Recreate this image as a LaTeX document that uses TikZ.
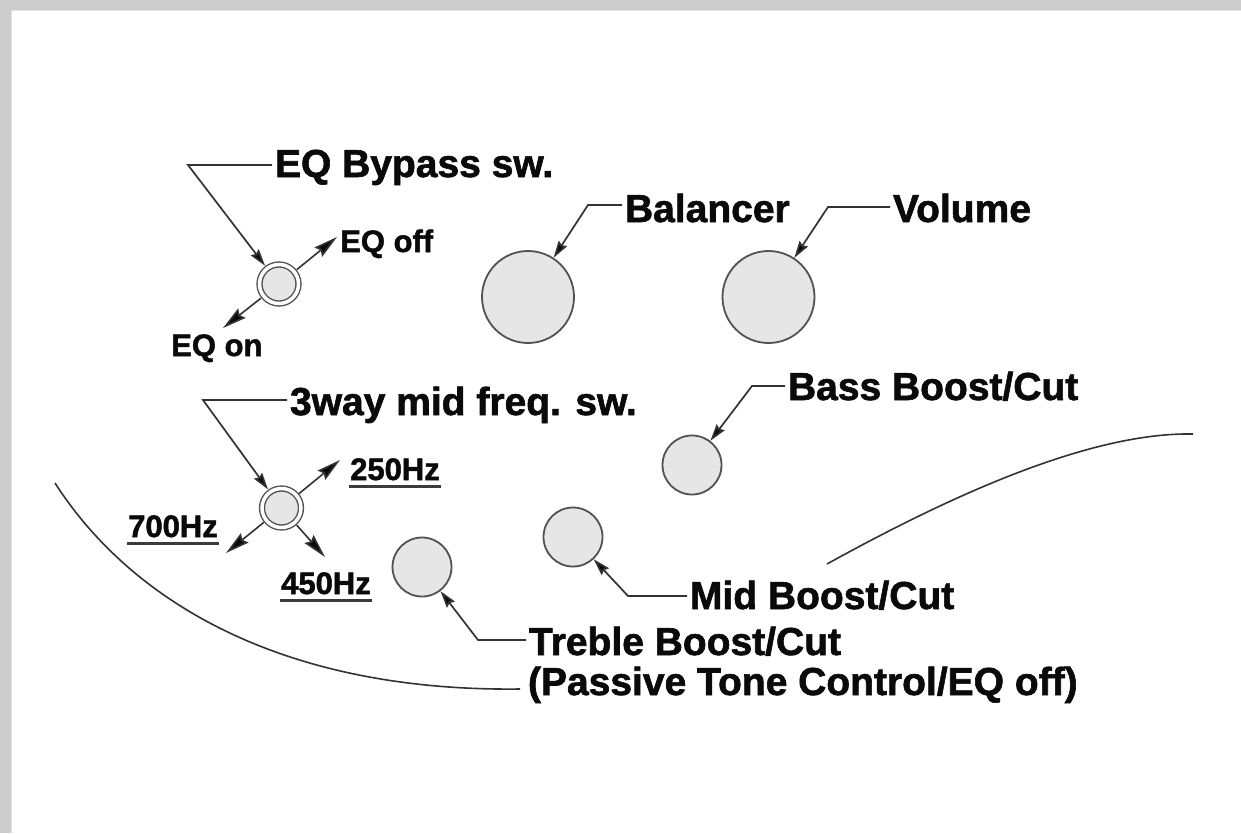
\documentclass[tikz,border=0pt]{standalone}
\usepackage{fontspec}
\setmainfont{Liberation Sans}[BoldFeatures={FakeBold=1.6}]
\usetikzlibrary{arrows.meta}
\definecolor{bordergray}{HTML}{CCCCCC}
\definecolor{edgegray}{HTML}{E2E2E2}
\definecolor{knobfill}{HTML}{E6E6E6}
\definecolor{linegray}{HTML}{333333}
\definecolor{inkblack}{HTML}{0A0A0A}
\begin{document}
\begin{tikzpicture}[x=1pt,y=-1pt,
  big/.style={font=\fontsize{39}{42}\selectfont\bfseries, text=inkblack, inner sep=0pt, anchor=base west, outer xsep=3pt},
  small/.style={font=\fontsize{31}{33}\selectfont\bfseries, text=inkblack, inner sep=0pt, anchor=base west},
  knob/.style={circle, draw=linegray!85, line width=1.8pt, fill=knobfill, inner sep=0pt},
  swnode/.style={circle, draw=linegray!85, line width=1.4pt, double=white, double distance=3.5pt, fill=knobfill, minimum size=39pt, inner sep=0pt, outer sep=3.4pt},
  lead/.style={draw=linegray, line width=1.7pt, line join=miter, -{Stealth[length=17pt,width=10pt,inset=2pt,fill=inkblack]}},
  dirarrow/.style={draw=linegray, line width=1.6pt, -{Stealth[length=24pt,width=12pt,inset=3pt,fill=inkblack]}},
  bodyline/.style={draw=linegray, line width=1.6pt},
  uline/.style={draw=inkblack!80, line width=2.2pt}]
\useasboundingbox (0,0) rectangle (1241,833);
% frame
\fill[bordergray] (0,0) rectangle (1241,833);
\fill[white] (11,10) rectangle (1241,833);
\draw[edgegray, line width=1.2pt] (11.6,833) -- (11.6,10.6) -- (1241,10.6);

% body outline
\draw[bodyline] (55,483) .. controls (130,600) and (280,692) .. (520,689);
\draw[bodyline] (827,564) .. controls (950,496) and (1090,432) .. (1193,434);

% switches and knobs
\node[swnode] (sw1) at (279,284) {};
\node[swnode] (sw2) at (281.5,508) {};
\node[knob, minimum size=92pt] (balk) at (528,297) {};
\node[knob, minimum size=92pt] (volk) at (768.5,297) {};
\node[knob, minimum size=59pt] (bassk) at (692,465) {};
\node[knob, minimum size=59pt] (midk) at (573,537) {};
\node[knob, minimum size=59pt] (trebk) at (422,567) {};

% labels
\node[big] (eqbl) at (272,177) {EQ Bypass sw.};
\node[big] (ball) at (622,222) {Balancer};
\node[big] (voll) at (890,222) {Volume};
\node[big] (midfl) at (287,415) {3way mid freq. sw.};
\node[big] (bassl) at (785,400) {Bass Boost/Cut};
\node[big] (midl) at (687,609) {Mid Boost/Cut};
\node[big] (trebl) at (526,655) {Treble Boost/Cut};
\node[big] (passl) at (525,695) {(Passive Tone Control/EQ off)};
\node[small] (eqoff) at (340,252) {EQ off};
\node[small] (eqon) at (171,356) {EQ on};
\node[small] (h250) at (350,480) {250Hz};
\node[small] (h700) at (128,537) {700Hz};
\node[small] (h450) at (281,594) {450Hz};

% underlines
\foreach \n in {h250,h700,h450}
  \draw[uline] ([xshift=-1pt,yshift=-6.5pt]\n.base west) -- ([xshift=1pt,yshift=-6.5pt]\n.base east);

% bend points and tips
\coordinate (b1) at (188,165);
\coordinate (b2) at (588,205);
\coordinate (b3) at (828,207);
\coordinate (b4) at (203,400);
\coordinate (b5) at (752,386);
\coordinate (b6) at (628,596);
\coordinate (b7) at (478,640);
\coordinate (t1) at (337,237);
\coordinate (t2) at (223,328);
\coordinate (t3) at (340,460);
\coordinate (t4) at (226,553);
\coordinate (t5) at (325,557);

% leaders
\draw[lead] (eqbl.west |- b1) -- (b1) -- (sw1);
\draw[lead] (ball.west |- b2) -- (b2) -- (balk);
\draw[lead] (voll.west |- b3) -- (b3) -- (volk);
\draw[lead] (midfl.west |- b4) -- (b4) -- (sw2);
\draw[lead] (bassl.west |- b5) -- (b5) -- (bassk);
\draw[lead] (midl.west |- b6) -- (b6) -- (midk);
\draw[lead] (trebl.west |- b7) -- (b7) -- (trebk);

% switch directions
\draw[dirarrow] (sw1) -- (t1);
\draw[dirarrow] (sw1) -- (t2);
\draw[dirarrow] (sw2) -- (t3);
\draw[dirarrow] (sw2) -- (t4);
\draw[dirarrow] (sw2) -- (t5);
\end{tikzpicture}
\end{document}
